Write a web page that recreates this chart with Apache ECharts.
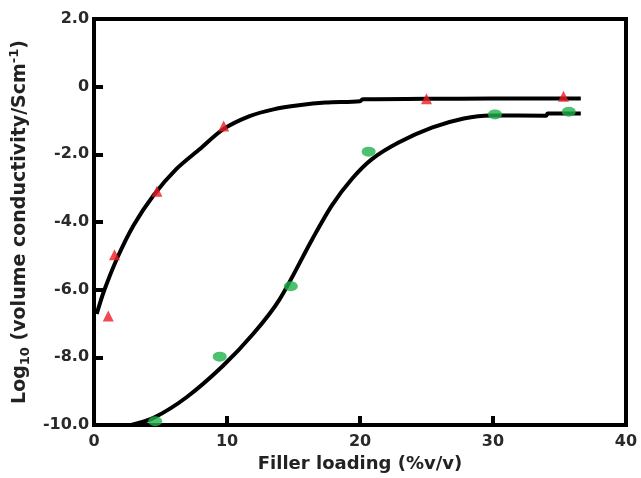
<!DOCTYPE html>
<html>
<head>
<meta charset="utf-8">
<script src="https://cdn.jsdelivr.net/npm/echarts@6/dist/echarts.min.js"></script>
<style>
  html, body { margin: 0; padding: 0; background: #ffffff; }
  #chart { width: 641px; height: 478px; }
</style>
</head>
<body>
<div id="chart"></div>
<script>
// Axis ticks and their labels
const xTicks = [0, 10, 20, 30, 40];
const xTickLabels = ['0', '10', '20', '30', '40'];
const yTicks = [-10, -8, -6, -4, -2, 0, 2];
const yTickLabels = ['-10.0', '-8.0', '-6.0', '-4.0', '-2.0', '0', '2.0'];

// Measured conductivity, first filler (red triangles): [loading %v/v, log10 conductivity]
const redPoints = [
  [1.07, -6.78], [1.54, -4.97], [4.73, -3.09], [9.75, -1.16], [25.0, -0.36], [35.3, -0.28]
];
// Fitted curve through the first filler data
const redCurve = [
  [0.2, -6.72], [0.75, -6.04], [1.74, -5.07], [2.99, -4.09], [4.48, -3.21],
  [6.2, -2.43], [7.96, -1.84], [9.7, -1.26], [11.7, -0.87], [13.5, -0.67],
  [15.4, -0.55], [17.4, -0.47], [20.0, -0.43], [20.2, -0.37], [25.0, -0.36],
  [30.0, -0.35], [36.6, -0.35]
];

// Measured conductivity, second filler (green dots)
const greenPoints = [
  [4.6, -9.89], [9.45, -7.98], [14.8, -5.9], [20.65, -1.92], [30.15, -0.82], [35.7, -0.74]
];
// Fitted curve through the second filler data
const greenCurve = [
  [2.8, -10.0], [4.48, -9.79], [6.96, -9.18], [9.7, -8.25], [11.94, -7.32],
  [13.93, -6.3], [16.42, -4.5], [17.9, -3.5],
  [19.4, -2.72], [20.9, -2.14], [22.9, -1.65], [25.4, -1.21], [27.8, -0.94],
  [29.85, -0.85], [34.0, -0.86], [34.1, -0.79], [36.6, -0.79]
];

const FONT = 'DejaVu Sans';
const chart = echarts.init(document.getElementById('chart'), null, { renderer: 'canvas' });

chart.setOption({
  backgroundColor: '#ffffff',
  animation: false,
  grid: {
    left: 90, right: 15, top: 19, bottom: 50,
    show: true, borderColor: '#000', borderWidth: 4, backgroundColor: 'transparent'
  },
  xAxis: {
    type: 'value',
    min: xTicks[0], max: xTicks[xTicks.length - 1], interval: 10,
    name: 'Filler loading (%v/v)',
    nameLocation: 'middle', nameGap: 30,
    nameTextStyle: { fontFamily: FONT, fontWeight: 'bold', fontSize: 18, color: '#222' },
    axisLine: { show: true, onZero: false, lineStyle: { color: '#000', width: 4 } },
    axisTick: { show: true, inside: true, length: 9, lineStyle: { color: '#000', width: 4 } },
    axisLabel: {
      margin: 9, fontFamily: FONT, fontWeight: 'bold', fontSize: 16, color: '#2a2a2a',
      formatter: v => xTickLabels[xTicks.indexOf(v)] ?? ''
    },
    splitLine: { show: false }
  },
  yAxis: {
    type: 'value',
    min: yTicks[0], max: yTicks[yTicks.length - 1], interval: 2,
    name: '{a|Log}{sub|10}{a| (volume conductivity/Scm}{sup|-1}{a|)}',
    nameLocation: 'middle', nameGap: 42, nameRotate: 90,
    nameTextStyle: {
      fontFamily: FONT, fontWeight: 'bold', fontSize: 19, color: '#222',
      rich: {
        a: { fontFamily: FONT, fontWeight: 'bold', fontSize: 19, lineHeight: 24, color: '#222' },
        sub: { fontFamily: FONT, fontWeight: 'bold', fontSize: 13, lineHeight: 13, verticalAlign: 'bottom', color: '#222' },
        sup: { fontFamily: FONT, fontWeight: 'bold', fontSize: 13, lineHeight: 13, verticalAlign: 'top', color: '#222' }
      }
    },
    axisLine: { show: true, onZero: false, lineStyle: { color: '#000', width: 4 } },
    axisTick: { show: true, inside: true, length: 9, lineStyle: { color: '#000', width: 4 } },
    axisLabel: {
      margin: 5, fontFamily: FONT, fontWeight: 'bold', fontSize: 16, color: '#2a2a2a',
      formatter: v => yTickLabels[yTicks.indexOf(v)] ?? ''
    },
    splitLine: { show: false }
  },
  series: [
    {
      type: 'line', data: redCurve, smooth: 0.3,
      showSymbol: false, lineStyle: { color: '#000', width: 4 }, z: 2
    },
    {
      type: 'line', data: greenCurve, smooth: 0.3,
      showSymbol: false, lineStyle: { color: '#000', width: 4 }, z: 2
    },
    {
      type: 'scatter', data: redPoints, symbol: 'triangle', symbolSize: [11, 11],
      itemStyle: { color: '#ec1c24' }, z: 3
    },
    {
      type: 'scatter', data: greenPoints, symbol: 'circle', symbolSize: [14, 10],
      itemStyle: { color: '#22b14c' }, z: 3
    }
  ]
});
</script>
</body>
</html>
